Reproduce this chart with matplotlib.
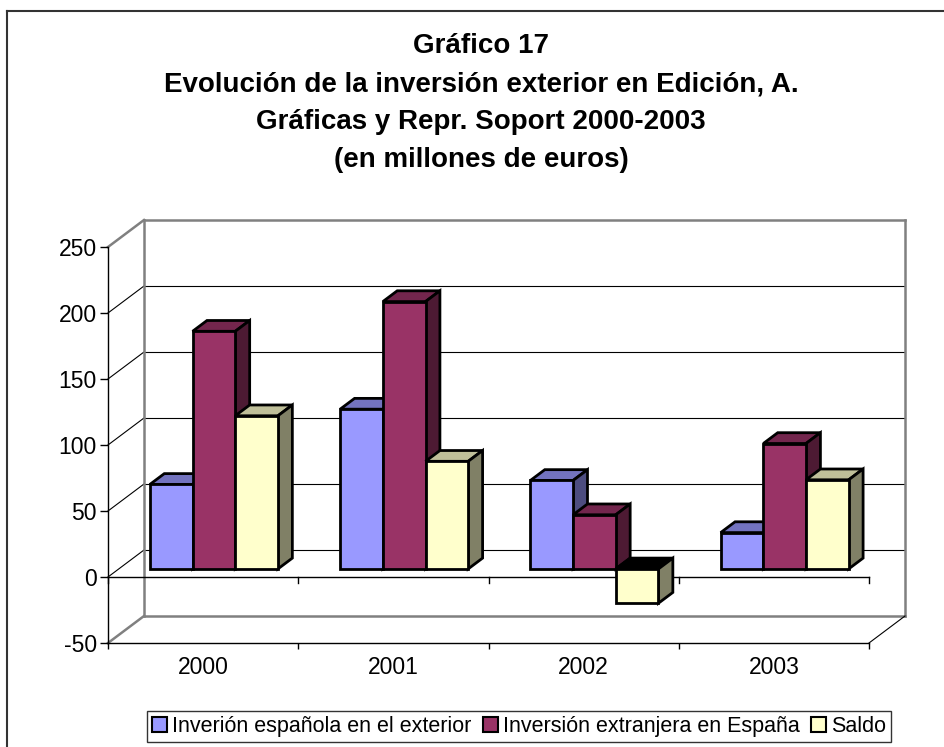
import matplotlib
matplotlib.use("Agg")
import matplotlib.pyplot as plt
from matplotlib.patches import Polygon, Patch
from matplotlib.lines import Line2D

plt.rcParams['font.family'] = ['Liberation Sans', 'DejaVu Sans']

# data (millones de euros)
years = ['2000', '2001', '2002', '2003']
series_names = ['Inverión española en el exterior',
                'Inversión extranjera en España',
                'Saldo']
inv_espanola = [64, 121, 67, 27.5]
inv_extranjera = [180, 202.5, 41, 95]
saldo = [116, 81.5, -26, 67.5]
yticks = [-50, 0, 50, 100, 150, 200, 250]

# face colours: front, top, side
colors = [('#9999FF', '#7373BF', '#4D4D80'),
          ('#993366', '#73264D', '#4D1A33'),
          ('#FFFFCC', '#BFBF99', '#808066')]

W, H = 944, 747
fig = plt.figure(figsize=(W / 100, H / 100), dpi=100)
fig.patch.set_facecolor('white')

# front plane of the 3d box in pixels
px_l, px_r, px_t, px_b = 108, 869, 247, 643
ax = fig.add_axes([px_l / W, 1 - px_b / H, (px_r - px_l) / W, (px_b - px_t) / H])
ax.set_xlim(0, len(years))
ax.set_ylim(yticks[0], yticks[-1])
ax.patch.set_alpha(0)

# depth offset of the box (36 px right, 27 px up)
DX = 36 / ((px_r - px_l) / len(years))
DY = 27 / ((px_b - px_t) / (yticks[-1] - yticks[0]))


def P(x, y, d):
    return (x + d * DX, y + d * DY)


def poly(pts, fc, ec, lw, z):
    ax.add_patch(Polygon(pts, closed=True, facecolor=fc, edgecolor=ec,
                         linewidth=lw, zorder=z, clip_on=False,
                         joinstyle='miter'))


def seg(p, q, color, lw, z):
    ax.add_line(Line2D([p[0], q[0]], [p[1], q[1]], color=color,
                       linewidth=lw, zorder=z, clip_on=False))


ymin, ymax = yticks[0], yticks[-1]
nx = len(years)
gray = '#808080'

# back wall
poly([P(0, ymin, 1), P(nx, ymin, 1), P(nx, ymax, 1), P(0, ymax, 1)],
     'white', 'none', 0, 0.5)
for v in yticks[1:-1]:
    seg(P(0, v, 1), P(nx, v, 1), 'black', 0.8, 0.8)
    seg(P(0, v, 0), P(0, v, 1), 'black', 0.8, 0.8)
# wall / floor outlines
seg(P(0, ymin, 1), P(nx, ymin, 1), gray, 1.8, 1)
seg(P(0, ymax, 1), P(nx, ymax, 1), gray, 1.8, 1)
seg(P(0, ymin, 1), P(0, ymax, 1), gray, 1.8, 1)
seg(P(nx, ymin, 1), P(nx, ymax, 1), gray, 1.8, 1)
seg(P(0, ymax, 0), P(0, ymax, 1), gray, 1.8, 1)
seg(P(0, ymin, 0), P(0, ymin, 1), gray, 1.8, 1)
seg(P(nx, ymin, 0), P(nx, ymin, 1), 'black', 0.8, 1)

# zero line with ticks
tick_len = 6 / ((px_b - px_t) / (ymax - ymin))
seg((0, 0), (nx, 0), 'black', 1.0, 1.2)
for i in range(nx + 1):
    seg((i, 0), (i, -tick_len), 'black', 1.0, 1.2)

# bars
d0, d1 = 0.3, 0.7
group_w = 0.673
bw = group_w / 3
z = 2
for i in range(nx):
    for s, vals in enumerate([inv_espanola, inv_extranjera, saldo]):
        v = vals[i]
        front, top, side = colors[s]
        x0 = i + (1 - group_w) / 2 + s * bw
        x1 = x0 + bw
        lo, hi = min(0, v), max(0, v)
        poly([P(x0, hi, d0), P(x1, hi, d0), P(x1, hi, d1), P(x0, hi, d1)],
             top if v >= 0 else 'black', 'black', 2.0, z)
        poly([P(x1, lo, d0), P(x1, lo, d1), P(x1, hi, d1), P(x1, hi, d0)],
             side, 'black', 2.0, z)
        poly([P(x0, lo, d0), P(x1, lo, d0), P(x1, hi, d0), P(x0, hi, d0)],
             front, 'black', 2.0, z + 0.1)
        z += 0.2

# axes
for sp in ['top', 'right']:
    ax.spines[sp].set_visible(False)
ax.spines['left'].set_linewidth(1.0)
ax.spines['bottom'].set_linewidth(1.0)
ax.set_yticks(yticks)
ax.set_yticklabels([str(v) for v in yticks], fontsize=16.5)
ax.tick_params(axis='y', direction='out', length=6, width=1, pad=2)
ax.set_xticks(range(nx + 1))
ax.set_xticklabels([])
ax.tick_params(axis='x', which='major', direction='out', length=4.5, width=1)
ax.set_xticks([i + 0.5 for i in range(nx)], minor=True)
ax.set_xticklabels(years, minor=True, fontsize=16.5)
ax.tick_params(axis='x', which='minor', length=0, pad=9)

# title
title_lines = ['Gráfico 17',
               'Evolución de la inversión exterior en Edición, A.',
               'Gráficas y Repr. Soport 2000-2003',
               '(en millones de euros)']
for k, line in enumerate(title_lines):
    fig.text(481 / W, 1 - (46 + 38 * k) / H, line, ha='center', va='center',
             fontsize=20, fontweight='bold')

# legend
handles = [Patch(facecolor=c[0], edgecolor='black', linewidth=1.5)
           for c in colors]
leg = fig.legend(handles, series_names, loc='center', ncol=3,
                 bbox_to_anchor=(519 / W, 1 - 726.5 / H), fontsize=15.5,
                 frameon=True, fancybox=False, edgecolor='black',
                 handlelength=0.7, handleheight=0.7, handletextpad=0.25,
                 columnspacing=0.5, borderpad=0.25, borderaxespad=0)
leg.get_frame().set_linewidth(1.0)

# outer chart frame
fig.add_artist(Line2D([7 / W, 7 / W], [0, 1 - 11 / H], color='#333333',
                      linewidth=1.5, transform=fig.transFigure))
fig.add_artist(Line2D([7 / W, 1], [1 - 11 / H, 1 - 11 / H], color='#333333',
                      linewidth=1.5, transform=fig.transFigure))

fig.savefig('out.png', dpi=100)
